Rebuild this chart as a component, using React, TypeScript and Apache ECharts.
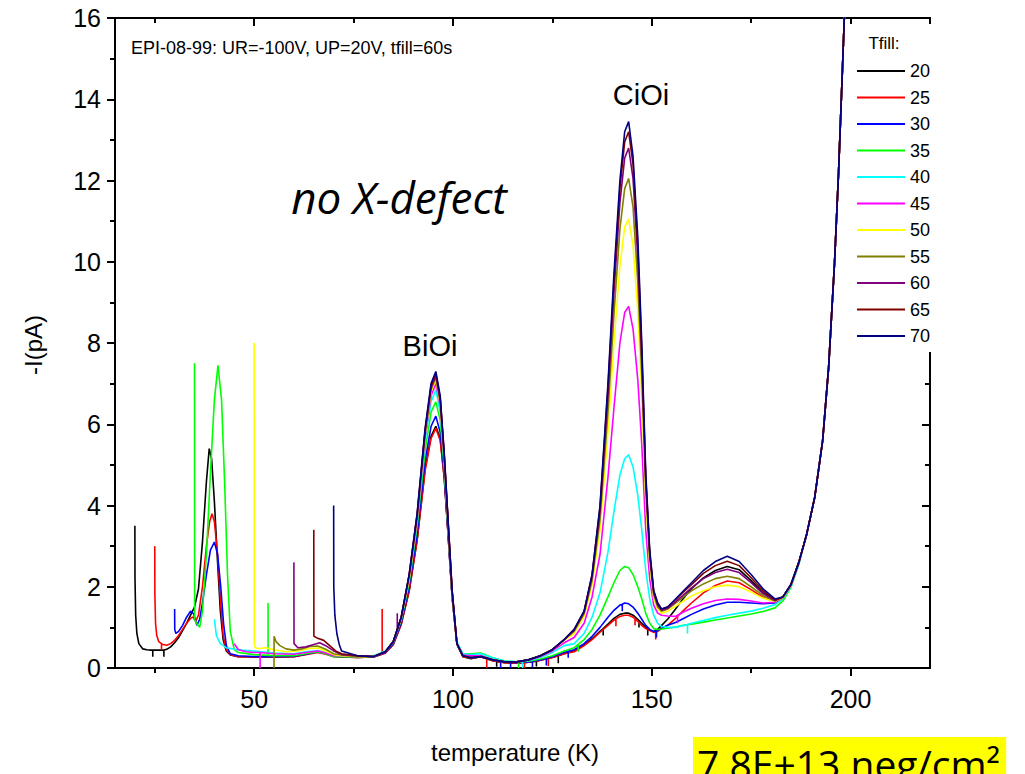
import React, { useEffect, useRef } from "react";
import * as echarts from "echarts";

const FONT = "'Liberation Sans', Arial, sans-serif";
const SANS = "'Open Sans', 'Noto Sans', sans-serif";

// Filling temperatures (legend) and their colours
const TFILL_LABELS = ["20", "25", "30", "35", "40", "45", "50", "55", "60", "65", "70"];
const LINE_COLORS = ["#000000", "#ff0000", "#0000ff", "#00ff00", "#00ffff", "#ff00ff", "#ffff00", "#808000", "#800080", "#800000", "#000080"];

const X_MAJOR = [50, 100, 150, 200];
const X_MINOR = [25, 75, 125, 175];

// Shared temperature grid (K) used above 72 K
const T_GRID = [72, 76, 80, 83, 85, 87, 89, 91, 93, 94.5, 95.7, 96.8, 97.8, 98.8, 99.8, 101, 102.5, 104.5,
  107, 110, 113, 116, 119, 122, 125, 128,
  130.5, 133, 135, 137, 139, 140.5, 142, 143.2, 144.2, 145.3, 146.5, 147.5, 148.5, 149.5, 150.5, 151.5, 152.5,
  154, 156, 158, 160, 163, 166, 169, 172, 175, 178, 181,
  183, 185, 187, 189, 191, 193, 194.5, 196, 197, 198, 199];

// Start of each scan, from Tfill up to 72 K: [T, -I]
const HEAD_20 = [[20, 3.5], [20.03, 2.2], [20.2, 1.3], [20.5, 0.85], [21, 0.6], [22, 0.47], [23, 0.45], [24, 0.44], [25, 0.44], [26, 0.44], [27, 0.44], [28, 0.46], [29, 0.52], [30, 0.62], [31, 0.75], [32, 0.92], [33, 1.1], [34, 1.3], [35, 1.5], [36, 1.95], [37, 3.1], [38, 4.6], [38.7, 5.4], [39.3, 5.15], [40, 4.1], [40.8, 2.6], [41.5, 1.4], [42.2, 0.7], [43, 0.42], [44, 0.32], [46, 0.28], [50, 0.27], [55, 0.27], [60, 0.28], [63, 0.34], [66, 0.4], [68, 0.36], [70, 0.29]];
const HEAD_25 = [[25, 3.0], [25.03, 1.8], [25.2, 1.1], [25.5, 0.8], [26, 0.65], [27, 0.58], [28, 0.56], [29, 0.6], [30, 0.68], [31, 0.8], [32, 0.95], [33, 1.1], [34, 1.22], [34.6, 1.26], [35.3, 1.15], [36, 1.3], [37, 2.0], [38, 3.0], [38.8, 3.6], [39.4, 3.8], [40, 3.6], [40.8, 2.8], [41.5, 1.7], [42.2, 0.8], [43, 0.45], [44, 0.33], [46, 0.28], [50, 0.27], [55, 0.27], [60, 0.28], [63, 0.33], [66, 0.38], [68, 0.34], [70, 0.28]];
const HEAD_30 = [[30, 1.45], [30.03, 0.95], [30.3, 0.85], [31, 0.9], [32, 1.05], [33, 1.25], [34, 1.4], [34.8, 1.33], [35.6, 1.05], [36.3, 1.2], [37, 1.6], [38, 2.3], [39, 2.9], [40, 3.1], [40.8, 2.8], [41.6, 2.0], [42.3, 1.1], [43, 0.55], [44, 0.35], [46, 0.3], [50, 0.28], [55, 0.28], [60, 0.29], [63, 0.34], [66, 0.4], [68, 0.36], [70, 0.29]];
const HEAD_35 = [[35, 7.5], [35.03, 1.2], [35.5, 1.1], [36.3, 1.0], [37, 1.4], [38, 2.8], [39, 4.8], [40, 6.6], [40.9, 7.45], [41.8, 6.6], [42.6, 4.5], [43.3, 2.3], [44, 0.9], [45, 0.45], [46, 0.38], [50, 0.33], [55, 0.3], [60, 0.3], [63, 0.35], [66, 0.4], [68, 0.35], [70, 0.28]];
const HEAD_40 = [[40, 1.2], [40.5, 0.8], [41.5, 0.6], [43, 0.5], [45, 0.46], [47, 0.44], [50, 0.42], [55, 0.37], [60, 0.35], [63, 0.4], [66, 0.43], [68, 0.38], [70, 0.31]];
const HEAD_45 = [[45, 0.6], [46, 0.45], [48, 0.4], [50, 0.38], [55, 0.35], [60, 0.34], [63, 0.38], [66, 0.42], [68, 0.37], [70, 0.3]];
const HEAD_50 = [[50, 8.0], [50.03, 0.6], [50.3, 0.5], [51, 0.48], [53, 0.5], [55, 0.45], [58, 0.4], [61, 0.42], [64, 0.48], [66, 0.49], [68, 0.42], [70, 0.33]];
const HEAD_55 = [[55, 0.0], [55.02, 0.78], [55.5, 0.65], [56.5, 0.55], [58, 0.47], [60, 0.44], [62, 0.47], [64, 0.53], [66, 0.54], [68, 0.46], [70, 0.35]];
const HEAD_60 = [[60, 2.6], [60.03, 0.6], [61, 0.5], [63, 0.52], [65, 0.58], [66.5, 0.62], [68, 0.55], [70, 0.42]];
const HEAD_65 = [[65, 3.4], [65.03, 0.78], [66, 0.73], [67.5, 0.68], [69, 0.55], [70.5, 0.42]];
const HEAD_70 = [[70, 4.0], [70.03, 2.0], [70.3, 1.3], [70.8, 0.85], [71.4, 0.58]];

// -I (pA) on T_GRID for each filling temperature
const I_20 = [0.27, 0.26, 0.27, 0.37, 0.58, 1.08, 1.9, 3.15, 4.9, 5.7, 5.95, 5.65, 4.7, 3.25, 1.75, 0.6, 0.28, 0.23, 0.28, 0.18, 0.13, 0.12, 0.14, 0.19, 0.26, 0.35, 0.42, 0.57, 0.72, 0.9, 1.08, 1.22, 1.32, 1.35, 1.35, 1.3, 1.2, 1.1, 1.0, 0.93, 0.9, 0.95, 1.05, 1.2, 1.45, 1.72, 1.95, 2.22, 2.4, 2.5, 2.42, 2.15, 1.85, 1.67, 1.75, 2.05, 2.6, 3.3, 4.2, 5.6, 7.4, 10.0, 12.2, 14.8, 17.5];
const I_25 = [0.27, 0.26, 0.27, 0.37, 0.58, 1.08, 1.9, 3.15, 4.85, 5.65, 5.9, 5.6, 4.7, 3.25, 1.75, 0.6, 0.28, 0.25, 0.28, 0.18, 0.13, 0.12, 0.14, 0.19, 0.26, 0.35, 0.4, 0.55, 0.7, 0.88, 1.05, 1.18, 1.27, 1.3, 1.3, 1.25, 1.15, 1.05, 0.97, 0.92, 0.88, 0.9, 0.97, 1.05, 1.22, 1.42, 1.6, 1.85, 2.03, 2.14, 2.1, 1.93, 1.74, 1.64, 1.73, 2.03, 2.6, 3.3, 4.2, 5.6, 7.4, 10.0, 12.2, 14.8, 17.5];
const I_30 = [0.28, 0.27, 0.27, 0.38, 0.6, 1.12, 2.0, 3.3, 5.1, 5.95, 6.2, 5.8, 4.8, 3.3, 1.75, 0.6, 0.3, 0.27, 0.3, 0.2, 0.15, 0.13, 0.15, 0.2, 0.28, 0.38, 0.45, 0.6, 0.78, 1.0, 1.25, 1.42, 1.55, 1.6, 1.58, 1.5, 1.35, 1.2, 1.05, 0.95, 0.9, 0.92, 0.98, 1.05, 1.12, 1.22, 1.32, 1.45, 1.55, 1.62, 1.62, 1.6, 1.58, 1.6, 1.72, 2.02, 2.58, 3.3, 4.2, 5.6, 7.4, 10.0, 12.2, 14.8, 17.5];
const I_35 = [0.28, 0.27, 0.28, 0.4, 0.63, 1.18, 2.1, 3.5, 5.35, 6.3, 6.55, 6.1, 4.95, 3.4, 1.8, 0.62, 0.35, 0.35, 0.37, 0.25, 0.17, 0.15, 0.17, 0.22, 0.3, 0.42, 0.5, 0.7, 0.95, 1.3, 1.75, 2.1, 2.4, 2.5, 2.47, 2.3, 2.0, 1.7, 1.35, 1.1, 0.97, 0.95, 0.96, 0.98, 1.01, 1.05, 1.08, 1.13, 1.18, 1.23, 1.28, 1.33, 1.39, 1.48, 1.65, 1.98, 2.55, 3.3, 4.2, 5.6, 7.4, 10.0, 12.2, 14.8, 17.5];
const I_40 = [0.3, 0.3, 0.3, 0.42, 0.66, 1.22, 2.2, 3.6, 5.6, 6.55, 6.85, 6.3, 5.1, 3.45, 1.85, 0.65, 0.35, 0.33, 0.35, 0.25, 0.17, 0.15, 0.18, 0.26, 0.38, 0.55, 0.6, 0.85, 1.25, 1.85, 2.85, 3.85, 4.75, 5.15, 5.25, 4.95, 4.25, 3.4, 2.4, 1.7, 1.3, 1.1, 1.02, 1.0, 1.0, 1.05, 1.1, 1.17, 1.24, 1.3, 1.35, 1.4, 1.47, 1.56, 1.7, 2.0, 2.55, 3.3, 4.2, 5.6, 7.4, 10.0, 12.2, 14.8, 17.5];
const I_45 = [0.3, 0.28, 0.28, 0.4, 0.64, 1.22, 2.2, 3.65, 5.7, 6.7, 7.0, 6.45, 5.15, 3.5, 1.85, 0.6, 0.32, 0.3, 0.3, 0.2, 0.15, 0.15, 0.2, 0.28, 0.42, 0.62, 0.75, 1.1, 1.75, 2.8, 4.7, 6.4, 8.0, 8.75, 8.9, 8.35, 7.1, 5.5, 3.4, 2.2, 1.55, 1.35, 1.3, 1.28, 1.27, 1.38, 1.47, 1.58, 1.66, 1.7, 1.69, 1.65, 1.6, 1.62, 1.72, 2.02, 2.58, 3.3, 4.2, 5.6, 7.4, 10.0, 12.2, 14.8, 17.5];
const I_50 = [0.3, 0.28, 0.28, 0.4, 0.65, 1.22, 2.2, 3.7, 5.75, 6.8, 7.1, 6.5, 5.2, 3.5, 1.85, 0.6, 0.3, 0.25, 0.28, 0.2, 0.15, 0.15, 0.2, 0.3, 0.45, 0.68, 0.85, 1.28, 2.05, 3.4, 5.8, 8.0, 9.9, 10.85, 11.05, 10.4, 8.8, 6.7, 4.1, 2.55, 1.7, 1.45, 1.35, 1.4, 1.52, 1.65, 1.77, 1.9, 2.0, 2.04, 2.0, 1.87, 1.72, 1.64, 1.73, 2.03, 2.6, 3.3, 4.2, 5.6, 7.4, 10.0, 12.2, 14.8, 17.5];
const I_55 = [0.32, 0.28, 0.28, 0.4, 0.65, 1.25, 2.25, 3.7, 5.8, 6.85, 7.15, 6.55, 5.2, 3.5, 1.85, 0.6, 0.3, 0.25, 0.28, 0.2, 0.15, 0.15, 0.2, 0.3, 0.45, 0.7, 0.9, 1.33, 2.15, 3.65, 6.3, 8.7, 10.8, 11.8, 12.05, 11.35, 9.5, 7.2, 4.4, 2.7, 1.8, 1.5, 1.4, 1.45, 1.6, 1.75, 1.9, 2.07, 2.2, 2.26, 2.2, 2.0, 1.78, 1.65, 1.74, 2.04, 2.6, 3.3, 4.2, 5.6, 7.4, 10.0, 12.2, 14.8, 17.5];
const I_60 = [0.33, 0.3, 0.28, 0.4, 0.65, 1.25, 2.3, 3.75, 5.8, 6.9, 7.2, 6.6, 5.25, 3.55, 1.9, 0.6, 0.3, 0.25, 0.28, 0.2, 0.15, 0.15, 0.2, 0.3, 0.45, 0.7, 0.93, 1.38, 2.25, 3.85, 6.7, 9.25, 11.45, 12.55, 12.8, 12.05, 10.1, 7.6, 4.6, 2.8, 1.85, 1.55, 1.42, 1.47, 1.63, 1.8, 1.97, 2.2, 2.35, 2.43, 2.35, 2.1, 1.83, 1.66, 1.75, 2.05, 2.6, 3.3, 4.2, 5.6, 7.4, 10.0, 12.2, 14.8, 17.5];
const I_65 = [0.35, 0.3, 0.28, 0.4, 0.65, 1.25, 2.3, 3.8, 5.85, 6.95, 7.25, 6.65, 5.3, 3.6, 1.9, 0.6, 0.3, 0.25, 0.28, 0.2, 0.15, 0.15, 0.2, 0.3, 0.45, 0.7, 0.95, 1.4, 2.3, 3.95, 6.9, 9.5, 11.8, 12.95, 13.2, 12.4, 10.4, 7.8, 4.7, 2.85, 1.9, 1.6, 1.45, 1.5, 1.68, 1.87, 2.05, 2.33, 2.52, 2.63, 2.52, 2.22, 1.9, 1.68, 1.75, 2.05, 2.6, 3.3, 4.2, 5.6, 7.4, 10.0, 12.2, 14.8, 17.5];
const I_70 = [0.42, 0.3, 0.28, 0.4, 0.65, 1.25, 2.3, 3.8, 5.9, 7.0, 7.3, 6.7, 5.3, 3.6, 1.9, 0.6, 0.3, 0.25, 0.28, 0.2, 0.15, 0.15, 0.2, 0.3, 0.45, 0.7, 0.95, 1.4, 2.3, 4.0, 7.0, 9.7, 12.0, 13.2, 13.45, 12.6, 10.6, 8.0, 4.8, 2.9, 1.9, 1.6, 1.45, 1.5, 1.7, 1.9, 2.1, 2.4, 2.62, 2.75, 2.62, 2.3, 1.95, 1.7, 1.75, 2.05, 2.6, 3.3, 4.2, 5.6, 7.4, 10.0, 12.2, 14.8, 17.5];

// Single-sample glitches in the recorded current: [T, level, spike]
const GLITCH_20 = [[24.5, 0.44, 0.28], [27.3, 0.44, 0.28], [111, 0.16, 0.03], [121, 0.17, 0.04], [126.5, 0.3, 0.12], [137.8, 0.97, 0.8], [146.8, 1.17, 1.0], [149, 0.96, 0.8]];
const GLITCH_25 = [[26.7, 0.6, 0.45], [82.2, 0.34, 1.45], [108.5, 0.23, 0.0], [118, 0.13, 0.0], [124, 0.24, 0.05], [141, 1.21, 1.03], [145.8, 1.21, 1.05], [151, 0.89, 0.7]];
const GLITCH_30 = [[112, 0.17, 0.0], [114.5, 0.14, 0.0], [120, 0.17, 0.02], [123.5, 0.24, 0.06], [129, 0.41, 0.25], [142.6, 1.57, 1.4], [151.2, 0.91, 0.75]];
const GLITCH_35 = [[53.5, 0.31, 1.6], [116.5, 0.15, 0.0], [131.5, 0.58, 0.4]];
const GLITCH_40 = [[117.5, 0.16, 0.0], [159, 1.07, 0.85]];
const GLITCH_45 = [[51.5, 0.38, 0.0], [156.5, 1.3, 1.1]];
const GLITCH_60 = [[86, 0.95, 1.35]];

const HEADS = [HEAD_20, HEAD_25, HEAD_30, HEAD_35, HEAD_40, HEAD_45, HEAD_50, HEAD_55, HEAD_60, HEAD_65, HEAD_70];
const CURRENTS = [I_20, I_25, I_30, I_35, I_40, I_45, I_50, I_55, I_60, I_65, I_70];
const GLITCHES = [GLITCH_20, GLITCH_25, GLITCH_30, GLITCH_35, GLITCH_40, GLITCH_45, [], [], GLITCH_60, [], []];

function scanPoints(head: number[][], current: number[], glitches: number[][]) {
  const pts: number[][] = head.map((p) => [p[0], p[1]]);
  T_GRID.forEach((t, i) => pts.push([t, current[i]]));
  glitches.forEach(([t, level, spike]) => {
    pts.push([t, level], [t, spike], [t, level]);
  });
  return pts
    .map((p, i) => ({ p, i }))
    .sort((a, b) => a.p[0] - b.p[0] || a.i - b.i)
    .map((o) => o.p);
}

const black = "#000";
const frame = { color: black, width: 2 };

function xAxisDef(position: "top" | "bottom", values: number[], length: number, withLine: boolean, withLabels: boolean) {
  return {
    type: "value",
    position,
    min: 15,
    max: 220,
    axisLine: { show: withLine, onZero: false, lineStyle: frame },
    axisTick: { show: true, inside: position === "top", length, customValues: values, lineStyle: frame },
    axisLabel: withLabels
      ? { show: true, customValues: values, fontSize: 25, color: black, fontFamily: FONT, margin: 18 }
      : { show: false },
    splitLine: { show: false },
  };
}

function yAxisDef(position: "left" | "right") {
  return {
    type: "value",
    position,
    min: 0,
    max: 16,
    interval: 2,
    axisLine: { show: true, onZero: false, lineStyle: frame },
    axisTick: { show: true, inside: position === "right", length: 8, lineStyle: frame },
    minorTick: { show: true, splitNumber: 2, length: 5, lineStyle: frame },
    axisLabel: position === "left"
      ? { show: true, fontSize: 25, color: black, fontFamily: FONT, margin: 14 }
      : { show: false },
    splitLine: { show: false },
    minorSplitLine: { show: false },
  };
}

export default function App() {
  const ref = useRef<HTMLDivElement>(null);

  useEffect(() => {
    if (!ref.current) return;
    const chart = echarts.init(ref.current, null, { renderer: "svg" });

    const series = TFILL_LABELS.map((name, k) => ({
      name,
      type: "line",
      xAxisIndex: 0,
      yAxisIndex: 0,
      data: scanPoints(HEADS[k], CURRENTS[k], GLITCHES[k]),
      symbol: "none",
      clip: true,
      lineStyle: { color: LINE_COLORS[k], width: 1.6 },
      itemStyle: { color: LINE_COLORS[k] },
      emphasis: { disabled: true },
    }));

    chart.setOption({
      animation: false,
      backgroundColor: "#fff",
      grid: { left: 115, right: 95, top: 18, bottom: 106 },
      xAxis: [
        xAxisDef("bottom", X_MAJOR, 8, true, true),
        xAxisDef("bottom", X_MINOR, 5, false, false),
        xAxisDef("top", X_MAJOR, 8, true, false),
        xAxisDef("top", X_MINOR, 5, false, false),
      ],
      yAxis: [yAxisDef("left"), yAxisDef("right")],
      legend: {
        orient: "vertical",
        left: 857,
        top: 62,
        padding: 0,
        icon: "rect",
        itemWidth: 48,
        itemHeight: 2,
        itemGap: 8.5,
        textStyle: { fontSize: 18, lineHeight: 18, color: black, fontFamily: FONT },
        data: TFILL_LABELS,
        selectedMode: false,
      },
      graphic: [
        { type: "rect", z: 3, shape: { x: 850, y: 24, width: 120, height: 328 }, style: { fill: "#fff" }, silent: true },
        { type: "text", z: 5, x: 884, y: 43, style: { text: "Tfill:", fontSize: 17, fontFamily: FONT, fill: black, textAlign: "center", textVerticalAlign: "middle" } },
        { type: "text", z: 5, x: 131, y: 48, style: { text: "EPI-08-99: UR=-100V, UP=20V, tfill=60s", fontSize: 18, fontFamily: FONT, fill: black, textAlign: "left", textVerticalAlign: "middle" } },
        { type: "text", z: 5, x: 399, y: 197, style: { text: "no X-defect", fontSize: 44, fontStyle: "italic", fontFamily: SANS, fill: black, textAlign: "center", textVerticalAlign: "middle" } },
        { type: "text", z: 5, x: 430, y: 346, style: { text: "BiOi", fontSize: 29, fontFamily: FONT, fill: black, textAlign: "center", textVerticalAlign: "middle" } },
        { type: "text", z: 5, x: 641, y: 95, style: { text: "CiOi", fontSize: 29, fontFamily: FONT, fill: black, textAlign: "center", textVerticalAlign: "middle" } },
        { type: "text", z: 5, x: 33, y: 345, rotation: Math.PI / 2, style: { text: "-I(pA)", fontSize: 24, fontFamily: FONT, fill: black, textAlign: "center", textVerticalAlign: "middle" } },
        { type: "text", z: 5, x: 515, y: 752, style: { text: "temperature (K)", fontSize: 24, fontFamily: FONT, fill: black, textAlign: "center", textVerticalAlign: "middle" } },
        { type: "text", z: 5, x: 693, y: 737, style: { text: "7.8E+13 neg/cm²", fontSize: 39, fontFamily: SANS, fill: black, backgroundColor: "#ffff00", padding: [7, 6, 6, 4], textAlign: "left", textVerticalAlign: "top" } },
      ],
      series,
    });

    return () => chart.dispose();
  }, []);

  return (
    <div
      ref={ref}
      style={{ position: "absolute", left: 0, top: 0, width: 1025, height: 774, background: "#fff" }}
    />
  );
}
